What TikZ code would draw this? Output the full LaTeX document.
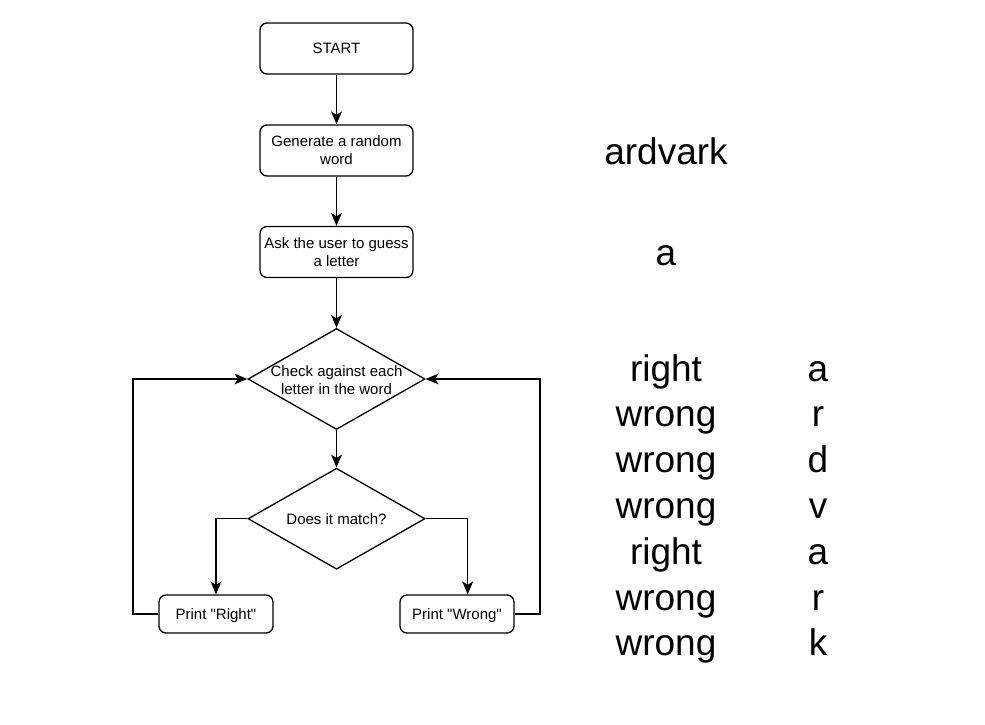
\documentclass[tikz,border=0pt]{standalone}
\usepackage{fontspec}
\setmainfont{Liberation Sans}[Ligatures=TeXOff]
\usetikzlibrary{shapes.geometric,arrows.meta,positioning,calc}
\begin{document}
\begin{tikzpicture}[x=1pt,y=-1pt,
  line width=1.3pt,
  box/.style={draw,rounded corners=7pt,align=center,inner sep=0pt,font=\fontsize{15}{18}\selectfont},
  bigbox/.style={box,minimum width=153pt,minimum height=51pt},
  smallbox/.style={box,minimum width=114pt,minimum height=38pt},
  dia/.style={draw,diamond,minimum width=177pt,minimum height=101pt,inner sep=0pt},
  small/.style={align=center,inner sep=0pt,font=\fontsize{15}{18}\selectfont},
  big/.style={anchor=base,inner sep=0pt,font=\fontsize{37}{44}\selectfont},
  tipa/.tip={Stealth[length=13pt,width=11pt,inset=3.5pt,line width=0pt]},
  arr/.style={-tipa}
]
\useasboundingbox (0,0) rectangle (985,724);
\node[bigbox] (start) at (336.5,48.5) {START};
\node[bigbox] (gen) at (336.5,150.5) {Generate a random\\word};
\node[bigbox] (ask) at (336.5,252) {Ask the user to guess\\a letter};
\node[dia] (check) at (336.5,379) {};
\node[small] (checkt) at (336.5,380) {Check against each\\letter in the word};
\node[dia] (match) at (336.5,518.7) {};
\node[small] (matcht) at (336.5,519) {Does it match?};
\node[smallbox] (right) at (216,614) {};
\node[small] (rightt) at (216,615.5) {Print "Right"};
\node[smallbox] (wrong) at (457,614) {};
\node[small] (wrongt) at (457,615.5) {Print "Wrong"};
\coordinate (lx) at (133,614);
\coordinate (rx) at (540,614);

\draw[arr] (start) -- (gen);
\draw[arr] (gen) -- (ask);
\draw[arr] (ask) -- (check.north);
\draw[arr] (check.south) -- (match.north);
\draw[arr] (match.west) -| (right.north);
\draw[arr] (match.east) -| ([xshift=10.7pt]wrong.north);
\draw[arr] (right.west) -- (lx) |- (check.west);
\draw[arr] (wrong.east) -- (rx) |- (check.east);

\node[big] (word) at (666,164.3) {ardvark};
\node[big] (guess) at (666,265.7) {a};
\foreach \w/\l [count=\i from 0] in {right/a,wrong/r,wrong/d,wrong/v,right/a,wrong/r,wrong/k}{
  \node[big] (res\i) at (666,{381+45.83*\i}) {\w};
  \node[big] (let\i) at (818,{381+45.83*\i}) {\l};
}
\end{tikzpicture}
\end{document}
